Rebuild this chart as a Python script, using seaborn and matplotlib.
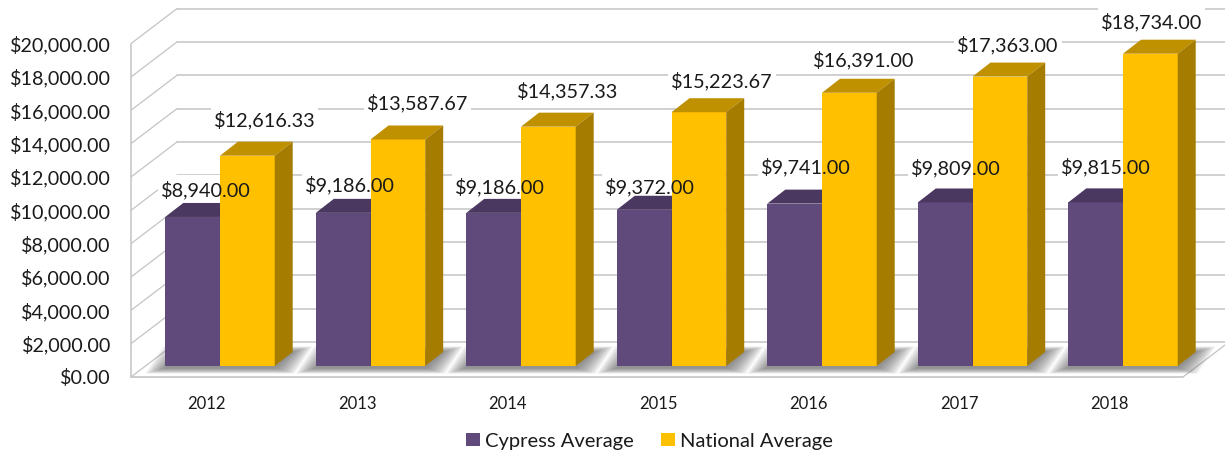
import numpy as np
import pandas as pd
import matplotlib
matplotlib.use("Agg")
import matplotlib.pyplot as plt
import seaborn as sns
from matplotlib.patches import Polygon, Rectangle

years = ["2012", "2013", "2014", "2015", "2016", "2017", "2018"]
cypress = [8940.00, 9186.00, 9186.00, 9372.00, 9741.00, 9809.00, 9815.00]
national = [12616.33, 13587.67, 14357.33, 15223.67, 16391.00, 17363.00, 18734.00]
y_ticks = list(range(0, 20001, 2000))
names = ["Cypress Average", "National Average"]

# label nudges in pixels from the top centre of each bar
cypress_nudge = [(13, 28), (6.5, 29), (6, 27), (5.5, 24), (11, 38), (10.5, 36), (10, 37)]
national_nudge = [(17, 37), (19.5, 38), (19.5, 37), (23, 33), (14.5, 34), (8, 33), (1.5, 33)]

W, H = 1225, 455
PX_CAT = 150.5   # pixels per category
PX_VAL = 0.01667  # pixels per dollar
cx = lambda p: p / PX_CAT
cy = lambda p: p / PX_VAL

FLOOR = -cy(11)       # front edge of floor, below bar baseline
WALL_X, WALL_Y = cx(46), cy(35)
BAR_X, BAR_Y = cx(18), cy(14)
TXT = "#1a1a1a"
GRID = "#c4c4c4"

sns.set_theme(style="white")
plt.rcParams["font.family"] = ["Lato", "DejaVu Sans"]

df = pd.DataFrame({"year": years * 2,
                   "cost": cypress + national,
                   "series": [names[0]] * 7 + [names[1]] * 7})

fig = plt.figure(figsize=(W / 100, H / 100), dpi=100)
ax = fig.add_axes([131 / W, (H - 377) / H, (W - 131) / W, 377 / H])
sns.barplot(data=df, x="year", y="cost", hue="series", palette=["#604a7b", "#ffc000"],
            width=0.727, gap=0, saturation=1, legend=False, ax=ax)
ax.set_xlim(cx(131 - 220), cx(W - 220))
ax.set_ylim(FLOOR, cy(366))
ax.set_xlabel("")
ax.set_ylabel("")
for s in ax.spines.values():
    s.set_visible(False)

# walls and floor
x0 = ax.get_xlim()[0]
x_front_end = x0 + cx(1183 - 131)
for t in y_ticks:
    yf = t + FLOOR
    ax.plot([x0, x0 + WALL_X], [yf, yf + WALL_Y], color=GRID, lw=0.9, zorder=1)
    ax.plot([x0 + WALL_X, ax.get_xlim()[1]], [yf + WALL_Y, yf + WALL_Y], color=GRID, lw=1.1, zorder=1)
ax.plot([x0, x0], [FLOOR, y_ticks[-1] + FLOOR], color=GRID, lw=1.1, zorder=1, clip_on=False)
ax.plot([x0, x_front_end], [FLOOR, FLOOR], color=GRID, lw=1.2, zorder=1, clip_on=False)
ax.plot([x_front_end, x_front_end + WALL_X], [FLOOR, FLOOR + WALL_Y], color=GRID, lw=0.9, zorder=1)

ax.set_yticks([t + FLOOR for t in y_ticks])
ax.set_yticklabels([f"${t:,.2f}" for t in y_ticks], fontsize=14.2, color=TXT)
ax.set_xticks(np.arange(len(years)) - cx(13.5))
ax.set_xticklabels(years, fontsize=12, color=TXT)
ax.tick_params(axis="y", length=0, pad=14.5)
ax.tick_params(axis="x", length=0, pad=13.5)

# depth of the bars
faces = [("#4b3860", "#4a3759"), ("#bf9000", "#a67c00")]
for k, cont in enumerate(ax.containers):
    for bar in cont:
        bar.set_zorder(3 + k)
        bar.set_linewidth(0)
        l, r, top = bar.get_x(), bar.get_x() + bar.get_width(), bar.get_height()
        ax.add_patch(Polygon([(l, top), (r, top), (r + BAR_X, top + BAR_Y), (l + BAR_X, top + BAR_Y)],
                             fc=faces[k][0], lw=0, zorder=3 + k))
        ax.add_patch(Polygon([(r, 0), (r, top), (r + BAR_X, top + BAR_Y), (r + BAR_X, BAR_Y)],
                             fc=faces[k][1], lw=0, zorder=3 + k))

# soft shadow on the floor, stacked see-through layers
for a, b in zip(ax.containers[0], ax.containers[1]):
    l, r = a.get_x(), b.get_x() + b.get_width()
    for e in range(1, 17):
        ex, ey = cx(e * 1.25), cy(e * 0.35)
        sh = cy(2)
        ax.add_patch(Polygon([(l - ex, -sh - ey), (r + ex, -sh - ey),
                              (r + BAR_X + ex, BAR_Y + ey), (l + BAR_X - ex, BAR_Y + ey)],
                             fc="#5a5a5a", alpha=0.06, lw=0, zorder=2))

# labels; white box sits behind the bars but cuts the grid lines
labels = []
for k, (vals, nudge) in enumerate([(cypress, cypress_nudge), (national, national_nudge)]):
    for bar, v, (dx, dy) in zip(ax.containers[k], vals, nudge):
        labels.append(ax.annotate(f"${v:,.2f}", (bar.get_x() + bar.get_width() / 2, bar.get_height()),
                                  xytext=(dx, dy), textcoords="offset pixels", ha="center", va="center_baseline",
                                  fontsize=14.3, color=TXT, zorder=6))
fig.canvas.draw()
inv = ax.transData.inverted()
for t in labels:
    bb = t.get_window_extent()
    mid = (bb.y0 + bb.y1) / 2
    (xa, ya), (xb, yb) = inv.transform([(bb.x0 - 3, mid - 13), (bb.x1 + 3, mid + 15)])
    ax.add_patch(Rectangle((xa, ya), xb - xa, yb - ya, fc="white", lw=0, zorder=1.5))

fig.legend(ax.containers, names, loc="center", bbox_to_anchor=(649.5 / W, (H - 441) / H), ncol=2,
           frameon=False, fontsize=14.5, labelcolor=TXT, handlelength=0.68, handleheight=0.68,
           handletextpad=0.25, columnspacing=1.35)

fig.savefig("out.png", dpi=100)
